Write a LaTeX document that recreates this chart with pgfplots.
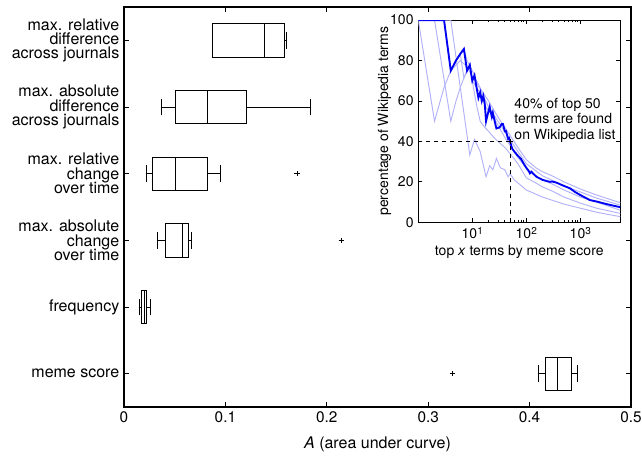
\documentclass[border=0pt]{standalone}
\usepackage{fontspec}
\setmainfont{TeX Gyre Heros}
\usepackage{pgfplots}
\pgfplotsset{compat=1.18}
\usepgfplotslibrary{statistics}
\definecolor{lightb}{RGB}{178,178,250}
\definecolor{mainb}{RGB}{0,0,245}
\newcommand{\sups}[1]{\raisebox{0.6ex}{\fontsize{7.5}{8}\selectfont #1}}
\begin{document}
\begin{tikzpicture}
\useasboundingbox (-93pt,-38.25pt) rectangle (388.5pt,305.25pt);
\begin{axis}[
  at={(0,0)}, anchor=south west,
  width=380.25pt, height=300pt, scale only axis,
  font=\fontsize{12}{12.4}\selectfont,
  xmin=0, xmax=0.5, ymin=0.5, ymax=6.5,
  xtick={0,0.1,0.2,0.3,0.4,0.5},
  ytick={1,2,3,4,5,6},
  yticklabels={meme score, frequency, {max. absolute\\[-1.6pt]change\\[-1.6pt]over time}, {max. relative\\[-1.6pt]change\\[-1.6pt]over time}, {max. absolute\\[-1.6pt]difference\\[-1.6pt]across journals}, {max. relative\\[-1.6pt]difference\\[-1.6pt]across journals}},
  yticklabel style={align=right, font=\fontsize{12}{12.4}\selectfont},
  /pgf/number format/assume math mode=true,
  xticklabel style={/pgf/number format/fixed, font=\fontsize{11.5}{12}\selectfont},
  xlabel={\textit{A} (area under curve)},
  xlabel style={yshift=-4pt},
  tick style={black, line width=0.6pt},
  major tick length=3.5pt,
  axis line style={line width=0.8pt},
  boxplot/draw direction=x,
  boxplot/box extend=0.5,
  boxplot/whisker extend=0.25,
]
\addplot[black, line width=0.6pt, boxplot prepared={draw position=6, lower whisker=0.087, lower quartile=0.0876, median=0.1383, upper quartile=0.1584, upper whisker=0.160}] coordinates {};
\addplot[black, line width=0.6pt, boxplot prepared={draw position=5, lower whisker=0.0366, lower quartile=0.0507, median=0.082, upper quartile=0.1209, upper whisker=0.1838}] coordinates {};
\addplot[black, line width=0.6pt, boxplot prepared={draw position=4, lower whisker=0.0224, lower quartile=0.0284, median=0.0507, upper quartile=0.082, upper whisker=0.0946}] coordinates {};
\addplot[black, line width=0.6pt, boxplot prepared={draw position=3, lower whisker=0.0326, lower quartile=0.0408, median=0.058, upper quartile=0.0632, upper whisker=0.0669}] coordinates {};
\addplot[black, line width=0.6pt, boxplot prepared={draw position=2, lower whisker=0.0148, lower quartile=0.0175, median=0.0198, upper quartile=0.0224, upper whisker=0.026}] coordinates {};
\addplot[black, line width=0.6pt, boxplot prepared={draw position=1, lower whisker=0.409, lower quartile=0.416, median=0.4272, upper quartile=0.4415, upper whisker=0.4476}] coordinates {};
\addplot[only marks, mark=+, mark size=2pt, black, line width=0.6pt] coordinates {(0.1707,4) (0.2144,3) (0.324,1)};
\end{axis}
\begin{axis}[
  at={(220.7pt,138.5pt)}, anchor=south west,
  width=151.5pt, height=151.7pt, scale only axis,
  font=\fontsize{10.5}{11.6}\selectfont,
  xmode=log, xmin=1, xmax=5500, ymin=0, ymax=100,
  ytick={0,20,40,60,80,100},
  xtick={10,100,1000},
  xticklabels={10\sups{1},10\sups{2},10\sups{3}},
  /pgf/number format/assume math mode=true,
  ylabel={percentage of Wikipedia terms},
  xlabel={top \textit{x} terms by meme score},
  ylabel style={yshift=-7.5pt},
  xlabel style={yshift=2pt},
  tick style={black, line width=0.6pt},
  major tick length=3pt, minor tick length=1.6pt,
  axis line style={line width=0.8pt},
  axis background/.style={fill=white},
]
\addplot[lightb, line width=0.7pt] coordinates {(1,100) (2,50) (3,66.7) (4,75) (5,80) (6,83.3) (7,71.4) (8,75) (9,77.8) (10,70) (12,66.7) (14,64) (17,58) (20,55) (25,52) (30,48) (40,42) (50,38) (70,32) (100,27) (150,23) (200,21) (300,19) (500,16) (1000,12.5) (2000,10) (5500,6)};
\addplot[lightb, line width=0.7pt] coordinates {(1,100) (2,100) (4,50) (5,60) (6,66.7) (7,71.4) (8,75) (9,77.8) (10,70) (11,63.6) (12,58) (14,50) (17,47) (20,45) (25,42) (30,40) (40,37) (50,34) (70,29) (100,22) (150,19.5) (200,17.5) (300,15.5) (500,12.5) (1000,9.5) (2000,7) (5500,4.4)};
\addplot[lightb, line width=0.7pt] coordinates {(1,100) (2,100) (3,100) (4,100) (6,66.7) (9,33.3) (11,41) (14,35) (18,22.5) (21,28) (24,26) (28,31.6) (33,27) (40,26) (46,22.5) (50,24) (60,21) (100,16) (200,12.5) (500,9) (1000,7) (2000,5) (5500,2.8)};
\addplot[lightb, line width=0.7pt] coordinates {(1,100) (3,100) (4,75) (5,80) (7,85.7) (8,80) (10,75) (12,70) (15,65) (20,60) (30,52) (40,47) (50,43) (70,37) (100,31) (150,27) (200,25) (300,23) (500,20) (1000,16.5) (2000,13.5) (5500,9.7)};
\addplot[lightb, line width=0.7pt] coordinates {(1,100) (3,100) (4,75) (6,80) (8,77) (10,72) (14,66) (20,57) (30,50) (50,41) (70,35) (100,29) (200,23) (500,18) (1000,15) (2000,12) (5500,8.5)};
\addplot[mainb, line width=1.4pt] coordinates {(1,100) (2,100) (3,100) (4,75) (5,80) (6,83.3) (7,85.7) (8,75) (9,77.8) (10,70) (11,72.7) (12,66.7) (13,61.5) (14,64.3) (15,60) (16,62.5) (17,58.8) (18,50) (19,52.6) (20,55) (21,57.1) (22,54.5) (23,52.2) (24,54.2) (25,52) (26,50) (27,48.1) (28,46.4) (30,46.7) (32,46.9) (35,48.6) (37,48.6) (38,47.4) (40,45) (42,45.2) (44,43.2) (46,41.3) (48,41.7) (50,40) (55,36.4) (60,35) (70,32.9) (80,31.3) (90,28.9) (100,27) (110,25.5) (117,24.2) (125,25) (135,24) (155,22.5) (200,21) (274,20) (300,20.2) (365,19.6) (450,18.5) (645,16.8) (800,15) (1000,13.5) (1510,11) (2000,10.3) (3090,9) (4000,8.3) (5500,7.5)};
\addplot[black, dashed, line width=0.6pt] coordinates {(1,40) (50,40)};
\addplot[black, dashed, line width=0.6pt] coordinates {(50,0) (50,40)};
\addplot[only marks, mark=+, mark size=2pt, black, line width=0.7pt] coordinates {(50,40)};
\node[anchor=north west, inner sep=0pt, align=left, font=\fontsize{10.5}{11.6}\selectfont] at (rel axis cs:0.475,0.615) {40\% of top 50\\terms are found\\on Wikipedia list};
\end{axis}
\end{tikzpicture}
\end{document}
